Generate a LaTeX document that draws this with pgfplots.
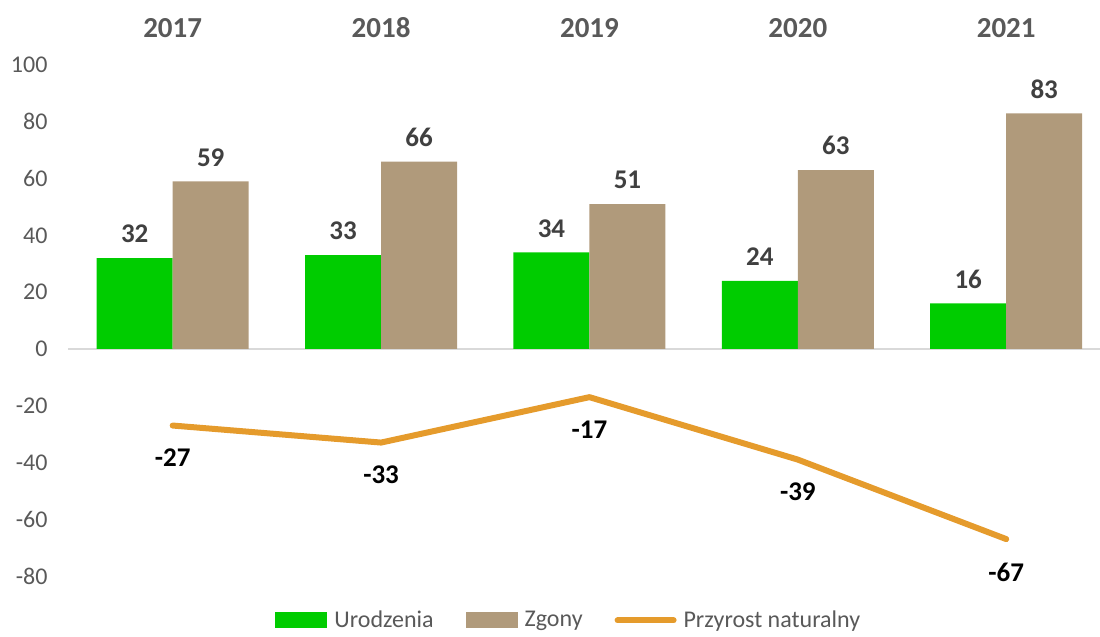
\documentclass[border=0pt]{standalone}
\usepackage{fontspec}
\setmainfont{Carlito}
\usepackage{pgfplots}
\pgfplotsset{compat=1.18}

\definecolor{urod}{HTML}{00CC00}
\definecolor{zgon}{HTML}{B09A7B}
\definecolor{przy}{HTML}{E59B2C}
\definecolor{txtgray}{HTML}{595959}
\definecolor{lblgray}{HTML}{404040}
\definecolor{zeroline}{HTML}{D9D9D9}

\begin{document}
\begin{tikzpicture}
\begin{axis}[
  name=ax,
  scale only axis,
  width=515.75bp, height=255.5bp,
  xmin=-0.5, xmax=4.45,
  ymin=-80, ymax=100,
  xtick={0,1,2,3,4},
  xticklabels={2017,2018,2019,2020,2021},
  xticklabel pos=upper,
  ytick={-80,-60,...,100},
  axis line style={draw=none},
  major tick length=0pt,
  /pgf/number format/assume math mode=true,
  xticklabel style={font=\fontsize{14.5bp}{17bp}\selectfont\bfseries, text=txtgray, yshift=10bp},
  yticklabel style={font=\fontsize{12bp}{14bp}\selectfont, text=txtgray, xshift=-7bp},
  clip=false,
  legend columns=3,
  legend style={at={(0.486,-0.087)}, anchor=center, draw=none, fill=none,
    font=\fontsize{12bp}{14bp}\selectfont, text=txtgray,
    /tikz/every odd column/.append style={column sep=1.5bp},
    /tikz/every even column/.append style={column sep=14bp}},
]
\draw[zeroline, line width=1bp] (axis cs:-0.5,0) -- (axis cs:4.45,0);

\addplot[ybar, bar width=38bp, bar shift=-19bp, fill=urod, draw=none,
  nodes near coords,
  every node near coord/.style={font=\fontsize{13.5bp}{15bp}\selectfont\bfseries, text=lblgray, yshift=4bp, xshift=-19bp},
  legend image code/.code={\fill[urod] (0bp,-4bp) rectangle (26bp,4bp);}]
  coordinates {(0,32) (1,33) (2,34) (3,24) (4,16)};
\addlegendentry{Urodzenia}

\addplot[ybar, bar width=38bp, bar shift=19bp, fill=zgon, draw=none,
  nodes near coords,
  every node near coord/.style={font=\fontsize{13.5bp}{15bp}\selectfont\bfseries, text=lblgray, yshift=4bp, xshift=19bp},
  legend image code/.code={\fill[zgon] (0bp,-4bp) rectangle (26bp,4bp);}]
  coordinates {(0,59) (1,66) (2,51) (3,63) (4,83)};
\addlegendentry{Zgony}

\addplot[przy, line width=3bp, sharp plot, mark=none, line cap=round, line join=round,
  nodes near coords, nodes near coords align={below},
  every node near coord/.style={font=\fontsize{13.5bp}{15bp}\selectfont\bfseries, text=black, yshift=-7bp},
  legend image code/.code={\draw[przy, line width=3bp, line cap=round] (0bp,0bp) -- (28bp,0bp);}]
  coordinates {(0,-27) (1,-33) (2,-17) (3,-39) (4,-67)};
\addlegendentry{Przyrost naturalny}
\end{axis}
\pgfresetboundingbox
\path[use as bounding box] ([xshift=-34.25bp,yshift=-30.5bp]ax.south west) rectangle ([yshift=32.5bp]ax.north east);
\end{tikzpicture}
\end{document}
